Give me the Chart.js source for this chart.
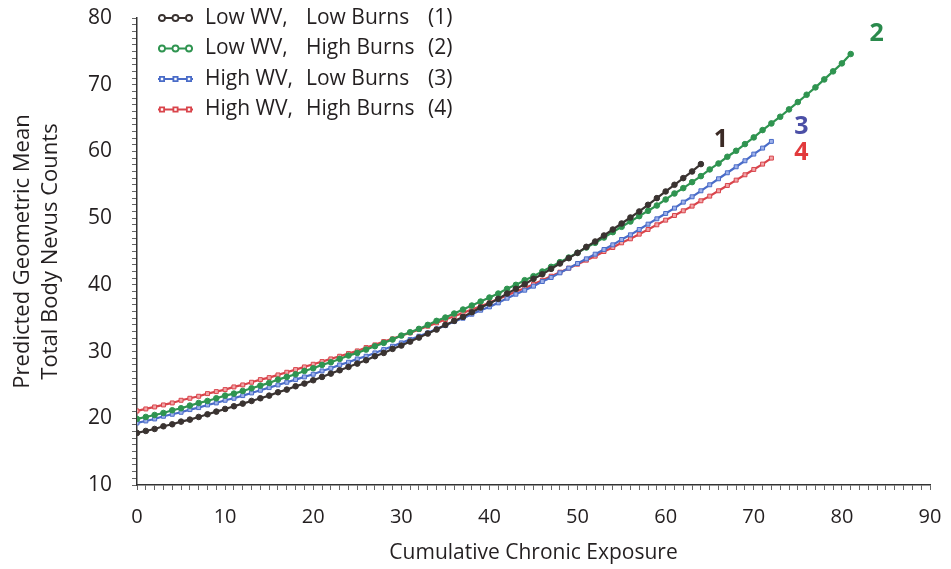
<!DOCTYPE html>
<html>
<head>
<meta charset="utf-8">
<script src="https://cdn.jsdelivr.net/npm/chart.js@4.4.1/dist/chart.umd.min.js"></script>
<style>
  html, body { margin: 0; padding: 0; background: #fff; }
</style>
</head>
<body>
<canvas id="nevusChart" width="951" height="569"></canvas>
<script>
// cumulative chronic exposure (x) shared by all curves
const exposure = [0,1,2,3,4,5,6,7,8,9,10,11,12,13,14,15,16,17,18,19,20,21,22,23,24,25,26,27,28,29,30,
  31,32,33,34,35,36,37,38,39,40,41,42,43,44,45,46,47,48,49,50,51,52,53,54,55,56,57,58,59,60,
  61,62,63,64,65,66,67,68,69,70,71,72,73,74,75,76,77,78,79,80,81];

// (1) Low WV, Low Burns
const lowWvLowBurns = [17.8,18.1,18.4,18.8,19.1,19.5,19.8,20.2,20.6,21.0,21.4,21.8,22.2,22.6,23.0,23.4,23.9,24.3,24.8,25.2,
  25.7,26.2,26.7,27.2,27.7,28.2,28.7,29.3,29.8,30.4,30.9,31.5,32.1,32.7,33.3,34.0,34.6,35.2,35.9,36.6,
  37.2,37.9,38.7,39.4,40.1,40.9,41.6,42.4,43.2,44.0,44.8,45.7,46.5,47.4,48.3,49.2,50.1,51.0,52.0,53.0,
  54.0,55.0,56.0,57.0,58.1];

// (2) Low WV, High Burns
const lowWvHighBurns = [19.9,20.2,20.5,20.8,21.2,21.5,21.9,22.3,22.6,23.0,23.4,23.7,24.1,24.5,24.9,25.3,25.8,26.2,26.6,27.1,
  27.5,28.0,28.4,28.9,29.4,29.8,30.3,30.8,31.3,31.8,32.4,32.9,33.4,34.0,34.6,35.1,35.7,36.3,36.9,37.5,
  38.1,38.7,39.4,40.0,40.7,41.3,42.0,42.7,43.4,44.1,44.8,45.6,46.3,47.1,47.9,48.7,49.5,50.3,51.1,51.9,
  52.8,53.7,54.5,55.4,56.3,57.3,58.2,59.2,60.1,61.1,62.1,63.2,64.2,65.2,66.3,67.4,68.5,69.6,70.8,72.0,
  73.2,74.6];

// (3) High WV, Low Burns
const highWvLowBurns = [19.3,19.6,19.9,20.3,20.6,20.9,21.3,21.6,22.0,22.3,22.7,23.0,23.4,23.8,24.2,24.6,25.0,25.4,25.8,26.2,
  26.6,27.1,27.5,28.0,28.4,28.9,29.3,29.8,30.3,30.8,31.3,31.8,32.3,32.8,33.4,33.9,34.5,35.0,35.6,36.2,
  36.7,37.3,38.0,38.6,39.2,39.8,40.5,41.1,41.8,42.5,43.2,43.9,44.6,45.3,46.0,46.8,47.5,48.3,49.1,49.9,
  50.7,51.5,52.4,53.2,54.1,55.0,55.9,56.8,57.7,58.6,59.6,60.5,61.5];

// (4) High WV, High Burns
const highWvHighBurns = [21.1,21.4,21.7,22.0,22.3,22.7,23.0,23.3,23.7,24.0,24.3,24.7,25.0,25.4,25.8,26.1,26.5,26.9,27.3,27.7,
  28.1,28.5,28.9,29.3,29.7,30.1,30.6,31.0,31.5,31.9,32.4,32.8,33.3,33.8,34.3,34.8,35.3,35.8,36.3,36.8,
  37.3,37.9,38.4,39.0,39.5,40.1,40.7,41.3,41.9,42.5,43.1,43.7,44.3,45.0,45.6,46.3,46.9,47.6,48.3,49.0,
  49.7,50.4,51.1,51.8,52.6,53.3,54.1,54.9,55.7,56.5,57.3,58.1,59.0];

const legendParts = [
  ['Low WV,', 'Low Burns', '(1)'],
  ['Low WV,', 'High Burns', '(2)'],
  ['High WV,', 'Low Burns', '(3)'],
  ['High WV,', 'High Burns', '(4)']
];
const endTags = ['1', '2', '3', '4'];
const xTickValues = [0, 10, 20, 30, 40, 50, 60, 70, 80, 90];
const yTickValues = [10, 20, 30, 40, 50, 60, 70, 80];

const FONT = 'Open Sans';
const TEXT = '#231f20';
const colors = ['#3a3331', '#2f9450', '#4a6cc8', '#d9444b'];
const fills = ['#3a3331', '#2f9450', '#9fb2ea', '#f1a5a8'];
const tagColors = ['#3b2a25', '#2a8a4c', '#4b4fa6', '#e23a3c'];
const styles = ['circle', 'circle', 'rect', 'rect'];
const tagOffsets = [[20, -24], [26, -20], [30, -15], [30, -5]];

const series = [lowWvLowBurns, lowWvHighBurns, highWvLowBurns, highWvHighBurns];

const toPoints = vals => vals.map((v, i) => ({ x: exposure[i], y: v }));

const datasets = series.map((vals, i) => ({
  label: legendParts[i].join(' '),
  data: toPoints(vals),
  borderColor: colors[i],
  backgroundColor: fills[i],
  borderWidth: 2.2,
  tension: 0,
  pointStyle: styles[i],
  pointRadius: 2.8,
  pointBorderWidth: 1,
  pointBackgroundColor: fills[i],
  pointBorderColor: colors[i]
}));

// legend in the top-left corner of the plot + the 1..4 tags at line ends
const overlayPlugin = {
  id: 'overlay',
  afterDatasetsDraw(chart) {
    const ctx = chart.ctx;
    ctx.save();
    ctx.font = '21px "' + FONT + '"';
    ctx.textBaseline = 'middle';
    ctx.textAlign = 'left';
    legendParts.forEach((parts, i) => {
      const y = 18 + i * 30.5;
      ctx.strokeStyle = colors[i];
      ctx.lineWidth = 1.8;
      ctx.beginPath();
      ctx.moveTo(158, y);
      ctx.lineTo(193, y);
      ctx.stroke();
      [162, 175.5, 189].forEach(px => {
        ctx.fillStyle = '#fff';
        ctx.strokeStyle = colors[i];
        Chart.helpers.drawPoint(ctx, { pointStyle: styles[i], radius: 3, borderWidth: 1.2 }, px, y);
      });
      ctx.fillStyle = TEXT;
      ctx.fillText(parts[0], 205, y);
      ctx.fillText(parts[1], 306, y);
      ctx.fillText(parts[2], 428, y);
    });

    ctx.font = 'bold 25px "' + FONT + '"';
    ctx.textAlign = 'center';
    endTags.forEach((tag, i) => {
      const pts = chart.getDatasetMeta(i).data;
      const last = pts[pts.length - 1];
      ctx.fillStyle = tagColors[i];
      ctx.fillText(tag, last.x + tagOffsets[i][0], last.y + tagOffsets[i][1]);
    });
    ctx.restore();
  }
};

const ctx = document.getElementById('nevusChart').getContext('2d');

new Chart(ctx, {
  type: 'line',
  data: { datasets: datasets },
  options: {
    responsive: false,
    animation: false,
    devicePixelRatio: 1,
    layout: { padding: { top: 18, right: 21, left: 0, bottom: 0 } },
    scales: {
      x: {
        type: 'linear',
        min: 0,
        max: 90,
        afterFit(scale) {
          scale.height = 84;
          scale.paddingLeft = 0;
          scale.paddingRight = 0;
        },
        border: { display: true, color: '#333', width: 1.5 },
        grid: { drawOnChartArea: false, drawTicks: true, tickLength: 5, color: '#666' },
        ticks: {
          stepSize: 1,
          autoSkip: false,
          maxRotation: 0,
          padding: 15,
          color: TEXT,
          font: { family: FONT, size: 20 },
          callback: v => xTickValues.includes(v) ? String(v) : ''
        },
        title: {
          display: true,
          text: 'Cumulative Chronic Exposure',
          color: TEXT,
          font: { family: FONT, size: 21 },
          padding: { top: 4, bottom: 3 }
        }
      },
      y: {
        min: 10,
        max: 80,
        afterFit(scale) {
          scale.width = 137;
          scale.paddingTop = 0;
          scale.paddingBottom = 0;
        },
        border: { display: true, color: '#333', width: 1.5 },
        grid: { drawOnChartArea: false, drawTicks: true, tickLength: 5, color: '#666' },
        ticks: {
          stepSize: 1,
          autoSkip: false,
          padding: 20,
          color: TEXT,
          font: { family: FONT, size: 21 },
          callback: v => yTickValues.includes(v) ? String(v) : ''
        },
        title: {
          display: true,
          text: ['Predicted Geometric Mean', 'Total Body Nevus Counts'],
          color: TEXT,
          font: { family: FONT, size: 22, lineHeight: 1.25 },
          padding: { top: 9, bottom: 0 }
        }
      }
    },
    plugins: {
      legend: { display: false },
      tooltip: { enabled: false }
    }
  },
  plugins: [overlayPlugin]
});
</script>
</body>
</html>
